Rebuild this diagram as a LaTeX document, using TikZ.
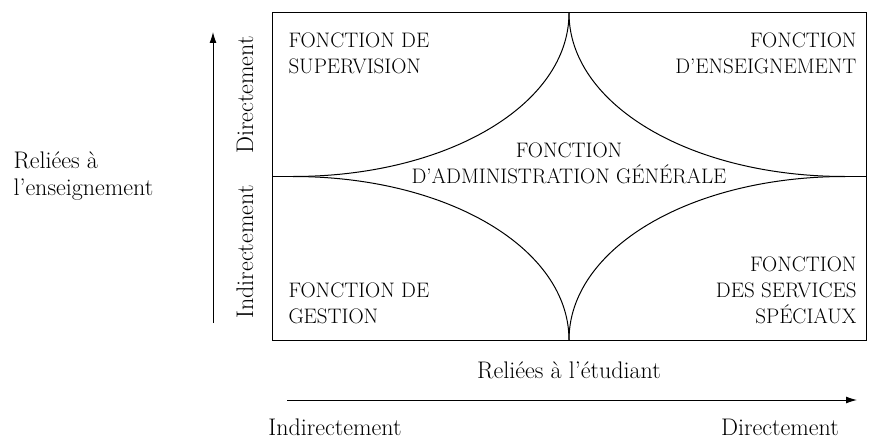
\documentclass[tikz,border=0pt]{standalone}
\usetikzlibrary{arrows.meta}
\usetikzlibrary{positioning}
\usetikzlibrary{calc}

\begin{document}
\begin{tikzpicture}[
      x = 1pt, y = -1pt,
      >={Latex[length=11pt,width=7pt]},
      line width = 1pt,
      fonction/.style = {
        font = \fontsize{21}{26}\selectfont,
        inner sep = 0pt
      },
      legende/.style = {
        font = \fontsize{24}{27}\selectfont,
        inner sep = 0pt
      },
    ]
    \useasboundingbox (0,0) rectangle (870,444);

    % cadre et points de rebroussement
    \coordinate (NW) at (272,13);
    \coordinate (SE) at (866,340);
    \coordinate (C) at (569,176.5);
    \coordinate (T) at (569,13);
    \coordinate (B) at (569,340);
    \coordinate (L) at (293,176.5);
    \coordinate (R) at (845,176.5);
    \coordinate (Lb) at (272,176.5);
    \coordinate (Rb) at (866,176.5);

    \draw (NW) rectangle (SE);
    \draw (Lb) -- (L);
    \draw (R) -- (Rb);
    \draw (T) .. controls ($(T)!0.56!(C)$) and ($(L)!0.56!(C)$) .. (L);
    \draw (T) .. controls ($(T)!0.56!(C)$) and ($(R)!0.56!(C)$) .. (R);
    \draw (B) .. controls ($(B)!0.56!(C)$) and ($(L)!0.56!(C)$) .. (L);
    \draw (B) .. controls ($(B)!0.56!(C)$) and ($(R)!0.56!(C)$) .. (R);

    % fonctions
    \node[fonction, align = left, anchor = north west] (sup) at (288,32.5)
      {FONCTION DE\\SUPERVISION};
    \node[fonction, align = right, anchor = north east] (ens) at (857,32.5)
      {FONCTION\\D'ENSEIGNEMENT};
    \node[fonction, align = center, anchor = north] (adm) at (569,142.5)
      {FONCTION\\D'ADMINISTRATION GÉNÉRALE};
    \node[fonction, align = left, anchor = north west] (ges) at (288,282.5)
      {FONCTION DE\\GESTION};
    \node[fonction, align = right, anchor = north east] (spe) at (857,256.5)
      {FONCTION\\DES SERVICES\\SPÉCIAUX};

    % axes
    \coordinate (Vbas) at (213,323);
    \coordinate (Vhaut) at (213,32);
    \coordinate (Hg) at (287,400);
    \coordinate (Hd) at (857,400);
    \draw[->] (Vbas) -- (Vhaut);
    \draw[->] (Hg) -- (Hd);

    \node[legende, align = left, anchor = north west] (ens_axe) at (13,151)
      {Reliées à\\l'enseignement};
    \node[legende, rotate = 90, anchor = base] (v_dir) at (253,95) {Directement};
    \node[legende, rotate = 90, anchor = base] (v_ind) at (253,252) {Indirectement};
    \node[legende, anchor = base] (etu_axe) at (569,378) {Reliées à l'étudiant};
    \node[legende, anchor = base] (h_ind) at (335,435) {Indirectement};
    \node[legende, anchor = base] (h_dir) at (780,435) {Directement};
  \end{tikzpicture}
\end{document}
